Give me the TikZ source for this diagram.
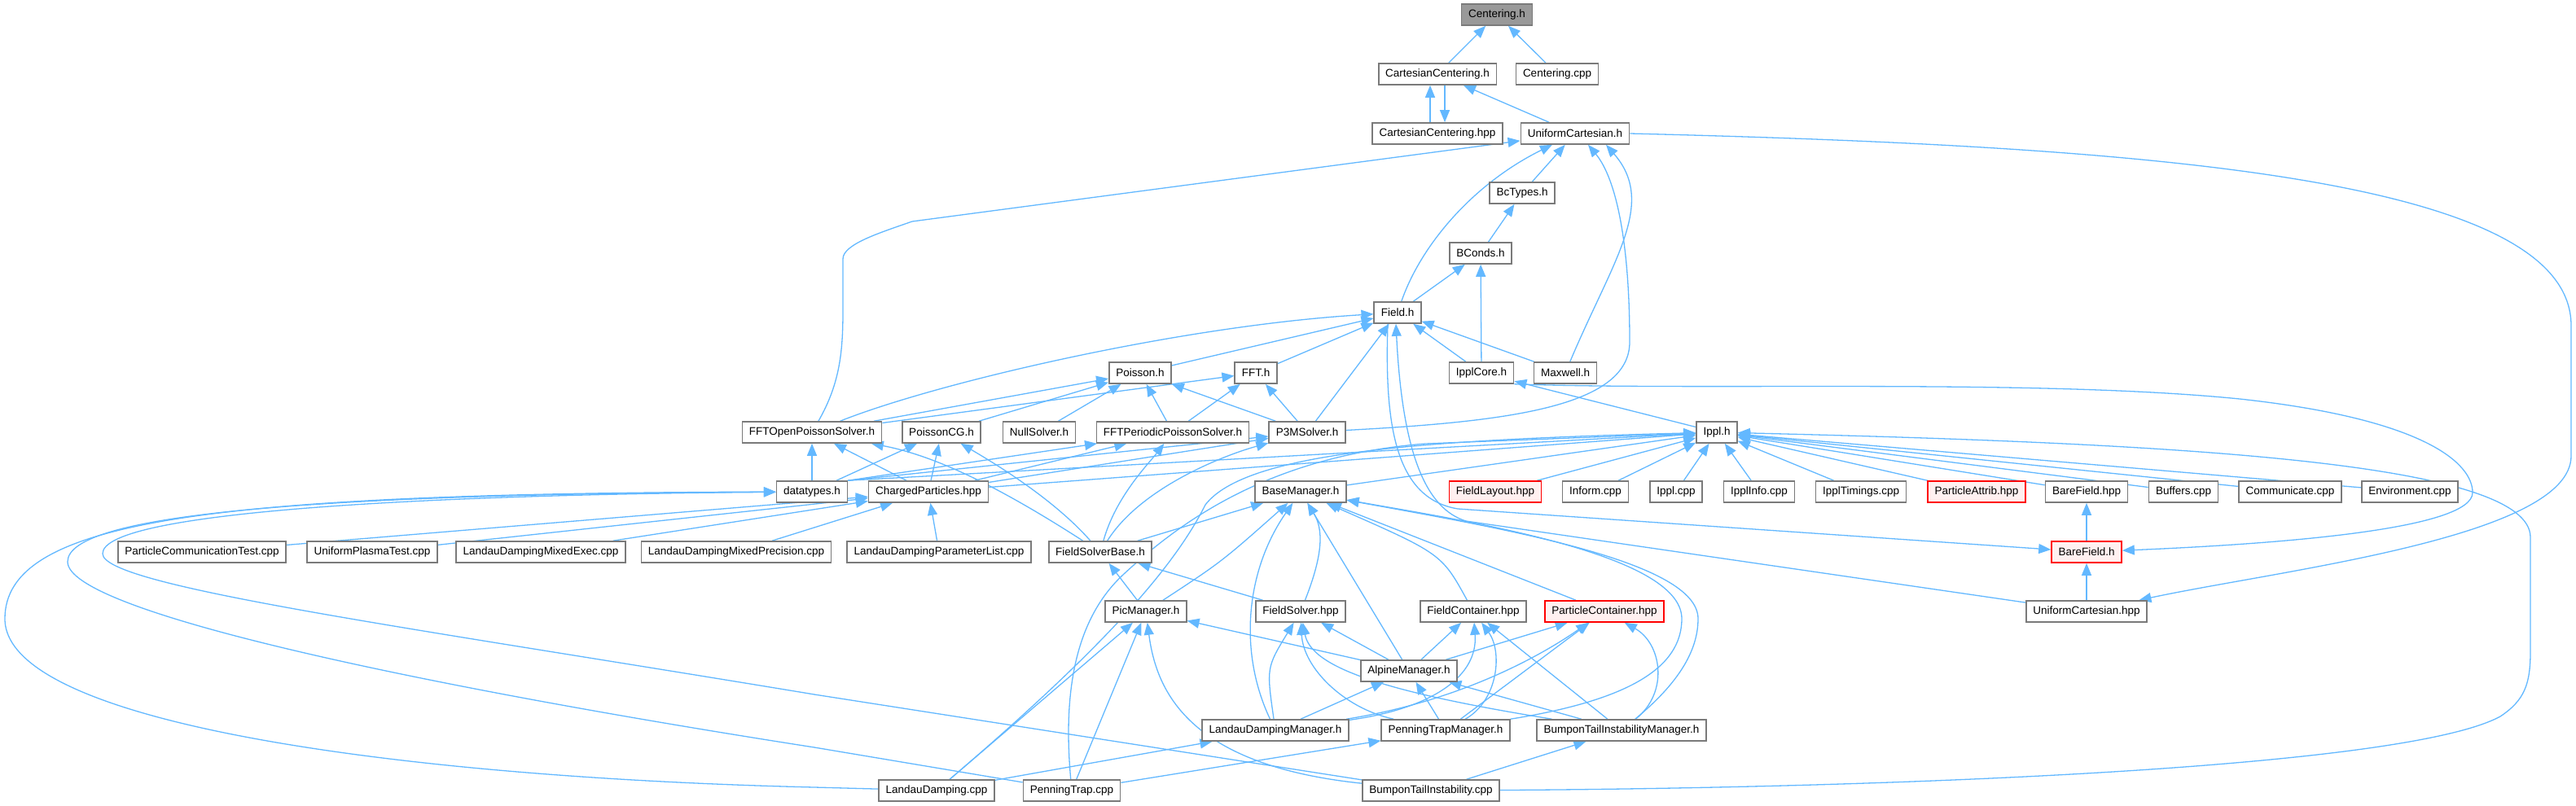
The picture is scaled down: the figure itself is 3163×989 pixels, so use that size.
\documentclass[tikz,border=0pt]{standalone}
\usepackage{fontspec}
\setmainfont{Liberation Sans}
\usetikzlibrary{arrows.meta}
\definecolor{eb}{HTML}{63B8FF}
\definecolor{ng}{HTML}{7A7A7A}
\definecolor{rootfill}{HTML}{999999}
\definecolor{pinkf}{HTML}{FFF0F0}
\definecolor{redb}{HTML}{FF0000}
\pgfdeclarelayer{bg}
\pgfsetlayers{bg,main}
\tikzset{
  nd/.style={draw=ng, line width=1.6pt, fill=white, minimum height=26pt, inner xsep=8.5pt, inner ysep=0pt, font=\fontsize{13.5}{16}\selectfont},
  rd/.style={nd, draw=redb, fill=pinkf},
  rootnd/.style={nd, fill=rootfill},
  e/.style={draw=eb, line width=1.3pt, -{Triangle[length=15pt,width=12pt]}}
}
\begin{document}
\begin{tikzpicture}[x=1pt,y=-1pt]
\useasboundingbox (0,0) rectangle (3163,989);
% row 0-5
\node[rootnd] (ch) at (1838,18) {Centering.h};
\node[nd] (cch) at (1765,91) {CartesianCentering.h};
\node[nd] (ccpp) at (1912,91) {Centering.cpp};
\node[nd] (ccph) at (1765,164) {CartesianCentering.hpp};
\node[nd] (uch) at (1934,164) {UniformCartesian.h};
\node[nd] (bct) at (1869,237) {BcTypes.h};
\node[nd] (bcd) at (1818,311) {BConds.h};
\node[nd] (fld) at (1716,384) {Field.h};
% row 6
\node[nd] (poi) at (1400,458) {Poisson.h};
\node[nd] (fft) at (1542,458) {FFT.h};
\node[nd] (ico) at (1819,458) {IpplCore.h};
\node[nd] (mxw) at (1922,458) {Maxwell.h};
% row 7
\node[nd] (fop) at (997,531) {FFTOpenPoissonSolver.h};
\node[nd] (pcg) at (1156,531) {PoissonCG.h};
\node[nd] (nul) at (1276,531) {NullSolver.h};
\node[nd] (fpp) at (1440,531) {FFTPeriodicPoissonSolver.h};
\node[nd] (p3m) at (1605,531) {P3MSolver.h};
\node[nd] (ipl) at (2108,531) {Ippl.h};
% row 8
\node[nd] (dtt) at (997,604) {datatypes.h};
\node[nd] (chp) at (1140,604) {ChargedParticles.hpp};
\node[nd] (bmg) at (1597,604) {BaseManager.h};
\node[rd] (flh) at (1836,604) {FieldLayout.hpp};
\node[nd] (inf) at (1959,604) {Inform.cpp};
\node[nd] (ipc) at (2058,604) {Ippl.cpp};
\node[nd] (iin) at (2160,604) {IpplInfo.cpp};
\node[nd] (itm) at (2285,604) {IpplTimings.cpp};
\node[rd] (pat) at (2427,604) {ParticleAttrib.hpp};
\node[nd] (bfp) at (2562,604) {BareField.hpp};
\node[nd] (buf) at (2681,604) {Buffers.cpp};
\node[nd] (com) at (2812,604) {Communicate.cpp};
\node[nd] (env) at (2959,604) {Environment.cpp};
% row 9
\node[nd] (pctest) at (248,678) {ParticleCommunicationTest.cpp};
\node[nd] (upt) at (457,678) {UniformPlasmaTest.cpp};
\node[nd] (lme) at (664,678) {LandauDampingMixedExec.cpp};
\node[nd] (lmp) at (904,678) {LandauDampingMixedPrecision.cpp};
\node[nd] (lpl) at (1153,678) {LandauDampingParameterList.cpp};
\node[nd] (fsb) at (1351,678) {FieldSolverBase.h};
\node[rd] (bfh) at (2562,678) {BareField.h};
% row 10
\node[nd] (pic) at (1407,751) {PicManager.h};
\node[nd] (fsv) at (1597,751) {FieldSolver.hpp};
\node[nd] (fct) at (1809,751) {FieldContainer.hpp};
\node[rd] (pcont) at (1970,751) {ParticleContainer.hpp};
\node[nd] (uchp) at (2562,751) {UniformCartesian.hpp};
% row 11-13
\node[nd] (alp) at (1730,824) {AlpineManager.h};
\node[nd] (ldm) at (1566,897) {LandauDampingManager.h};
\node[nd] (ptm) at (1775,897) {PenningTrapManager.h};
\node[nd] (btm) at (1991,897) {BumponTailInstabilityManager.h};
\node[nd] (ldc) at (1150,971) {LandauDamping.cpp};
\node[nd] (ptc) at (1316,971) {PenningTrap.cpp};
\node[nd] (btc) at (1757,971) {BumponTailInstability.cpp};

\begin{pgfonlayer}{bg}
% top part
\draw[e] (cch) -- (ch);
\draw[e] (ccpp) -- (ch);
\draw[e] ([xshift=-9pt]ccph.north) -- ([xshift=-9pt]cch.south);
\draw[e] ([xshift=9pt]cch.south) -- ([xshift=9pt]ccph.north);
\draw[e] (uch) -- (cch);
\draw[e] (uch.east) .. controls (2650,180) and (3157,220) .. (3157,400) -- (3157,560) .. controls (3157,660) and (2800,700) .. (uchp);
\draw[e] (fop) .. controls (1032,470) and (1035,430) .. (1035,380) -- (1035,318) .. controls (1035,300) and (1080,286) .. (1120,272) -- (uch);
\draw[e] (bct) -- (uch);
\draw[e] (fld) .. controls (1745,300) and (1810,225) .. (uch);
\draw[e] (p3m) .. controls (1850,518) and (2001,500) .. (2001,420) .. controls (2001,300) and (1985,220) .. ([xshift=16pt]uch.south);
\draw[e] (mxw) .. controls (1980,320) and (2035,250) .. ([xshift=38pt]uch.south);
\draw[e] (bcd) -- (bct);
\draw[e] (fld) -- (bcd);
\draw[e] (ico) -- (bcd);
\draw[e] (poi) -- (fld);
\draw[e] (fft) -- (fld);
\draw[e] (ico) -- (fld);
\draw[e] (mxw) -- (fld);
\draw[e] (fop) .. controls (1150,470) and (1450,400) .. (fld);
\draw[e] (p3m) -- (fld);
\draw[e] ([xshift=-12pt]fld.south) .. controls (1700,520) and (1712,612) .. (1790,625) -- (bfh);
\draw[e] (uchp) -- (1800,640) .. controls (1752,625) and (1722,560) .. ([xshift=-2pt]fld.south);
% solvers
\draw[e] (fop) -- (poi);
\draw[e] (pcg) -- (poi);
\draw[e] (nul) -- (poi);
\draw[e] (fpp) -- (poi);
\draw[e] (p3m) -- (poi);
\draw[e] (fop) -- (fft);
\draw[e] (fpp) -- (fft);
\draw[e] (p3m) -- (fft);
\draw[e] (dtt) -- (fop);
\draw[e] (chp) -- (fop);
\draw[e] (fsb) .. controls (1230,600) and (1150,560) .. (fop);
\draw[e] (dtt) -- (pcg);
\draw[e] (chp) -- (pcg);
\draw[e] (fsb) .. controls (1300,620) and (1240,580) .. (pcg);
\draw[e] (dtt.north east) -- (fpp);
\draw[e] (chp) -- (fpp);
\draw[e] (fsb) .. controls (1370,610) and (1410,570) .. (fpp);
\draw[e] (dtt.north east) -- (p3m);
\draw[e] (chp) -- (p3m);
\draw[e] (fsb) .. controls (1400,600) and (1500,560) .. (p3m);
% Ippl.h
\draw[e] (dtt.north east) -- (ipl);
\draw[e] (chp) -- (ipl);
\draw[e] (bmg) -- (ipl);
\draw[e] (flh) -- (ipl);
\draw[e] (inf) -- (ipl);
\draw[e] (ipc) -- (ipl);
\draw[e] (iin) -- (ipl);
\draw[e] (itm) -- (ipl);
\draw[e] (pat) -- (ipl);
\draw[e] (bfp) -- (ipl);
\draw[e] (buf) -- (ipl);
\draw[e] (com) -- (ipl);
\draw[e] (env) -- (ipl);
\draw[e] (ipl) -- (ico);
\draw[e] (ico.south east) .. controls (2100,480) and (2500,465) .. (2750,490) .. controls (2980,515) and (3036,570) .. (3036,605) .. controls (3036,650) and (2800,668) .. (bfh);
\draw[e] (bfh) -- (bfp);
\draw[e] (uchp) -- (bfh);
\draw[e] (ldc) .. controls (1350,800) and (1440,700) .. (1480,620) .. controls (1530,555) and (1750,540) .. (ipl);
\draw[e] (ptc) .. controls (1305,850) and (1320,760) .. (1380,705) .. controls (1450,640) and (1560,560) .. (1750,545) -- (ipl);
\draw[e] (btc) .. controls (2300,968) and (2950,945) .. (3070,880) .. controls (3100,860) and (3107,840) .. (3107,800) -- (3107,660) .. controls (3107,570) and (2700,545) .. (ipl);
% datatypes curves
\draw[e] (ldc) -- (1000,967) .. controls (500,955) and (6,890) .. (6,760) .. controls (6,640) and (250,606) .. (dtt);
\draw[e] (ptc) -- (1000,918) .. controls (500,840) and (83,750) .. (83,690) .. controls (83,630) and (400,607) .. (dtt);
\draw[e] (btc) -- (1000,853) .. controls (500,770) and (126,720) .. (126,680) .. controls (126,630) and (500,608) .. (dtt);
% tests
\draw[e] (pctest) -- (chp);
\draw[e] (upt) -- (chp);
\draw[e] (lme) -- (chp);
\draw[e] (lmp) -- (chp);
\draw[e] (lpl) -- (chp);
% managers
\draw[e] (fsb) -- (bmg);
\draw[e] (pic) -- (fsb);
\draw[e] (fsv) -- (fsb);
\draw[e] (pic) .. controls (1500,690) .. (bmg);
\draw[e] (fsv) .. controls (1625,680) and (1625,650) .. (bmg);
\draw[e] (alp) -- (bmg);
\draw[e] (fct) .. controls (1770,680) .. (bmg);
\draw[e] (pcont) -- (bmg);
\draw[e] (alp) -- (pic);
\draw[e] (alp) -- (fsv);
\draw[e] (alp) -- (fct);
\draw[e] (alp) -- (pcont);
\draw[e] (ldm) .. controls (1520,800) and (1530,700) .. (bmg);
\draw[e] (ldm) .. controls (1555,820) .. (fsv);
\draw[e] (ldm) -- (alp);
\draw[e] (ldm) .. controls (1760,870) and (1815,830) .. (fct);
\draw[e] (ldm) .. controls (1800,860) and (1900,800) .. (pcont);
\draw[e] (ptm) .. controls (1650,870) and (1600,820) .. (fsv);
\draw[e] (ptm) -- (alp);
\draw[e] (ptm) .. controls (1840,860) and (1845,800) .. (fct);
\draw[e] (ptm) -- (pcont);
\draw[e] (ptm.north east) .. controls (2000,860) and (2065,820) .. (2065,760) .. controls (2065,680) and (1800,640) .. (bmg);
\draw[e] (btm) .. controls (1700,850) and (1610,820) .. (fsv);
\draw[e] (btm) -- (alp);
\draw[e] (btm) -- (fct);
\draw[e] (btm) .. controls (2050,850) and (2040,790) .. (pcont);
\draw[e] (btm) .. controls (2060,840) and (2085,800) .. (2085,760) .. controls (2085,690) and (1850,650) .. (bmg);
\draw[e] (ldc) -- (ldm);
\draw[e] (ptc) -- (ptm);
\draw[e] (btc) -- (btm);
\draw[e] (ldc) -- (pic);
\draw[e] (ptc) -- (pic);
\draw[e] (btc) .. controls (1460,940) and (1420,850) .. (pic);
\end{pgfonlayer}
\end{tikzpicture}
\end{document}
